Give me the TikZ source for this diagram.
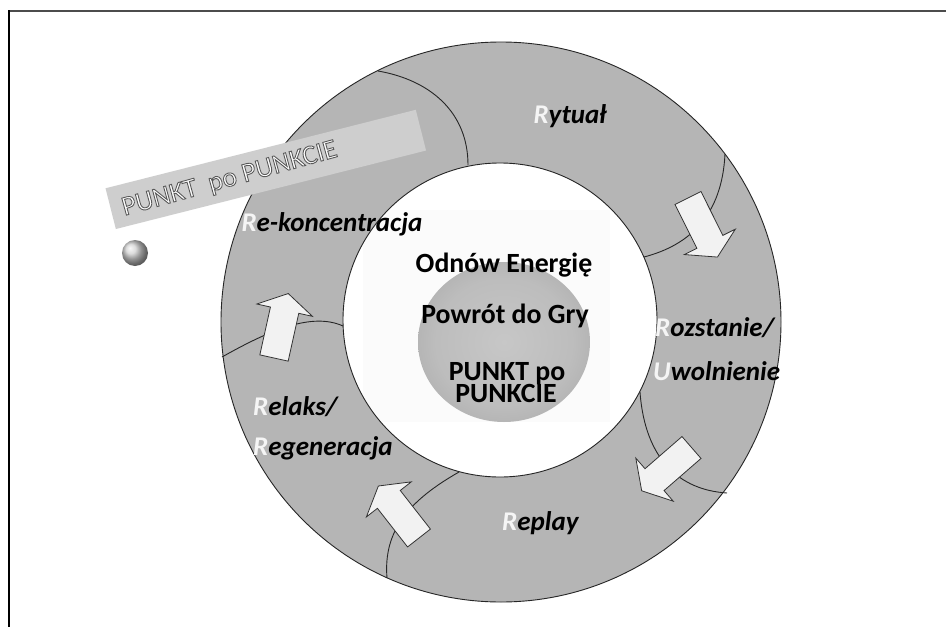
\documentclass[tikz,border=0pt]{standalone}
\usepackage{fontspec}
\setmainfont{Carlito}
\definecolor{ringgray}{HTML}{B5B5B5}
\definecolor{arrowfill}{HTML}{F2F2F2}
\definecolor{bannergray}{HTML}{CECECE}
\pgfdeclareradialshading{globe}{\pgfpoint{0bp}{0bp}}{color(0bp)=(black!22); color(20bp)=(black!26); color(32bp)=(black!33); color(40bp)=(black!20); color(46bp)=(black!7); color(50bp)=(white)}
\newcommand{\lightR}[1]{{\color{black!4}#1}}
\newcommand{\outlinedtext}[1]{\special{pdf:literal direct q 2 Tr 0.35 G 0.9 w}#1\special{pdf:literal direct Q}}
\tikzset{
  ringlabel/.style={font=\fontsize{27}{30}\selectfont\bfseries\itshape, text=black, inner sep=0pt},
  centerlabel/.style={font=\fontsize{27.8}{30}\selectfont\bfseries, text=black, inner sep=0pt},
  bannerlabel/.style={font=\fontsize{27.4}{30}\selectfont, inner sep=0pt, rotate=15.5, anchor=base},
  divider/.style={draw=black!85, line width=0.9pt},
  ringedge/.style={draw=black!85, line width=0.9pt},
  blockarrow/.style={fill=arrowfill, draw=black!80, line width=0.8pt, line join=miter},
}
\newcommand{\blockarrowat}[2]{%
  \begin{scope}[shift={#1}, rotate=#2]
    \path[blockarrow] (0,-14.5) -- (49,-14.5) -- (49,-28.5) -- (66,0) -- (49,28.5) -- (49,14.5) -- (0,14.5) -- cycle;
  \end{scope}}
\begin{document}
\begin{tikzpicture}[x=1pt,y=-1pt]
\useasboundingbox (0,0) rectangle (946,627);
\fill[white] (0,0) rectangle (946,627);
% frame lines
\draw[black!70, line width=2pt] (9,11) -- (946,11);
\draw[black, line width=2pt] (9,10) -- (9,627);
% faint picture background and blurred globe
\fill[black!1.5] (363,210) rectangle (610,422);
\shade[shading=globe] (504,342) ellipse[x radius=86pt, y radius=80pt];
% ring
\fill[ringgray, even odd rule] (501,322) circle[radius=280pt] (500,320) circle[radius=157pt];
\draw[ringedge] (501,322) circle[radius=280pt];
\draw[ringedge] (500,320) circle[radius=157pt];
% dividers
\draw[divider] (378,71) .. controls (430,80) and (468,112) .. (468,165);
\draw[divider] (725,154) .. controls (722,215) and (690,245) .. (644,257);
\draw[divider] (640,392) .. controls (645,460) and (680,490) .. (727,493);
\draw[divider] (459,472) .. controls (410,500) and (383,530) .. (387,578);
\draw[divider] (222,357) .. controls (270,330) and (312,312) .. (343,326);
% block arrows
\blockarrowat{(688,198)}{-63.5}
\blockarrowat{(691.5,447.5)}{221}
\blockarrowat{(419,538)}{128}
\blockarrowat{(274,358)}{77.5}
% banner and ball
\node[fill=bannergray, minimum width=320pt, minimum height=42pt, rotate=14.2, inner sep=0pt] (banner) at (265.8,169.4) {};
\shade[ball color=black!18] (135,253) circle[radius=13pt];
% centre texts
\node[centerlabel, anchor=base] (odnow) at (504,272) {Odnów Energię};
\node[centerlabel, anchor=base] (powrot) at (505,323) {Powrót do Gry};
\node[centerlabel, anchor=base] (punkta) at (507,380) {PUNKT po};
\node[centerlabel, anchor=base] (punktb) at (506,402) {PUNKCIE};
% ring labels
\node[ringlabel, anchor=base] (rytual) at (570,123) {\lightR{R}ytuał};
\node[ringlabel, anchor=base] (rekon) at (332,231) {\lightR{R}e-koncentracja};
\node[ringlabel, anchor=base west] (rozst) at (655,336) {\lightR{R}ozstanie/};
\node[ringlabel, anchor=base west] (uwol) at (653,380) {\lightR{U}wolnienie};
\node[ringlabel, anchor=base west] (relaks) at (253,415) {\lightR{R}elaks/};
\node[ringlabel, anchor=base west] (regen) at (253,455) {\lightR{R}egeneracja};
\node[ringlabel, anchor=base west] (replay) at (502,530) {\lightR{R}eplay};
% banner text (white letters with dark edge), drawn last
\node[bannerlabel, text=white] (bannertext) at (231.5,186) {\outlinedtext{PUNKT\ \ po PUNKCIE}};
\end{tikzpicture}
\end{document}
